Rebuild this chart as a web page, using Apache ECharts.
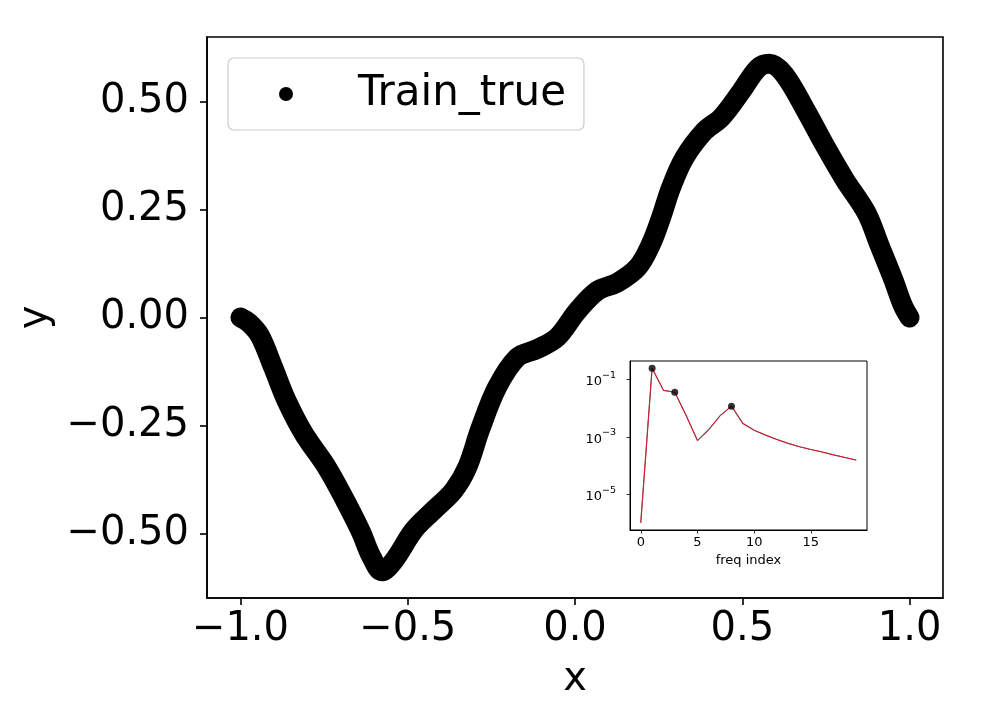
<!DOCTYPE html>
<html>
<head>
<meta charset="utf-8">
<script src="https://cdn.jsdelivr.net/npm/echarts@6/dist/echarts.min.js"></script>
<style>
html,body{margin:0;padding:0;background:#fff;}
#chart{width:998px;height:713px;}
</style>
</head>
<body>
<div id="chart"></div>
<script>
// Main curve
const xVals = [-1.000,-0.975,-0.942,-0.902,-0.862,-0.810,-0.742,-0.687,-0.639,-0.610,-0.577,-0.540,-0.482,-0.423,-0.363,-0.322,-0.283,-0.233,-0.173,-0.113,-0.053,0.007,0.067,0.127,0.187,0.227,0.257,0.287,0.327,0.387,0.437,0.497,0.547,0.581,0.626,0.694,0.748,0.806,0.871,0.911,0.951,0.980,1.000];
const yVals = [0.000,-0.012,-0.042,-0.116,-0.193,-0.270,-0.347,-0.424,-0.498,-0.552,-0.588,-0.562,-0.493,-0.447,-0.401,-0.347,-0.258,-0.162,-0.093,-0.073,-0.046,0.015,0.062,0.081,0.116,0.170,0.231,0.301,0.370,0.432,0.463,0.524,0.578,0.588,0.563,0.474,0.397,0.320,0.243,0.166,0.089,0.028,0.000];
const xTicks = [-1.0,-0.5,0.0,0.5,1.0];
const yTicks = [-0.5,-0.25,0.0,0.25,0.5];
const seriesName = 'Train_true';

// Inset spectrum
const freqIndex = [0,1,2,3,4,5,6,7,8,9,10,11,12,13,14,15,16,17,18,19];
const spectrum = [1.0e-6,0.25,0.042,0.036,5.6e-3,7.4e-4,1.8e-3,5.5e-3,0.0118,2.95e-3,1.7e-3,1.15e-3,8.1e-4,5.9e-4,4.5e-4,3.6e-4,2.95e-4,2.35e-4,1.9e-4,1.55e-4];
const peakIdx = [1,3,8];
const insetXTicks = [0,5,10,15];
const insetYExp = [-5,-3,-1];

const FONT = 'DejaVu Sans';
const mainData = xVals.map((x,i)=>[x,yVals[i]]);
const specData = freqIndex.map((k,i)=>[k,Math.log10(spectrum[i])]);
const peakData = peakIdx.map(k=>[k,Math.log10(spectrum[k])]);
const minus = s => s.replace('-', '\u2212');

const chart = echarts.init(document.getElementById('chart'), null, {renderer:'canvas'});
chart.setOption({
  animation:false,
  backgroundColor:'#ffffff',
  legend:{
    data:[{name:seriesName, icon:'circle'}],
    left:228, top:58,
    itemWidth:14, itemHeight:14,
    padding:[14,18,14,51],
    backgroundColor:'rgba(255,255,255,0.8)',
    borderColor:'#cccccc', borderWidth:1.2, borderRadius:6,
    itemStyle:{color:'#000'},
    textStyle:{fontFamily:FONT, fontSize:42, color:'#000', lineHeight:44, padding:[0,0,0,60]}
  },
  grid:[
    {left:207, top:37, right:55, bottom:115, show:true, borderColor:'#000', borderWidth:1.6, backgroundColor:'#fff'},
    {left:630, top:361, width:237, height:169, show:true, borderColor:'#000', borderWidth:1, backgroundColor:'#fff', z:10}
  ],
  xAxis:[
    {type:'value', gridIndex:0, min:-1.1, max:1.1,
     name:'x', nameLocation:'middle', nameGap:62,
     nameTextStyle:{fontFamily:FONT, fontSize:40, color:'#000', lineHeight:40},
     axisLine:{show:true, onZero:false, lineStyle:{color:'#000', width:1.6}},
     axisTick:{show:true, length:7, lineStyle:{color:'#000', width:1.6}, customValues:xTicks},
     axisLabel:{fontFamily:FONT, fontSize:40, color:'#000', margin:12, lineHeight:40, customValues:xTicks,
       formatter:v=>minus(v.toFixed(1))},
     splitLine:{show:false}},
    {type:'value', gridIndex:1, min:-0.95, max:19.95,
     name:'freq index', nameLocation:'middle', nameGap:24,
     nameTextStyle:{fontFamily:FONT, fontSize:13, color:'#000'},
     axisLine:{show:true, onZero:false, lineStyle:{color:'#000', width:1}},
     axisTick:{show:true, length:3.5, lineStyle:{color:'#000', width:0.8}, customValues:insetXTicks},
     axisLabel:{fontFamily:FONT, fontSize:13, color:'#000', margin:6, customValues:insetXTicks,
       formatter:v=>String(Math.round(v))},
     splitLine:{show:false}, z:10}
  ],
  yAxis:[
    {type:'value', gridIndex:0, min:-0.65, max:0.65,
     name:'y', nameLocation:'middle', nameGap:150, nameRotate:90,
     nameTextStyle:{fontFamily:FONT, fontSize:40, color:'#000', lineHeight:40},
     axisLine:{show:true, onZero:false, lineStyle:{color:'#000', width:1.6}},
     axisTick:{show:true, length:7, lineStyle:{color:'#000', width:1.6}, customValues:yTicks},
     axisLabel:{fontFamily:FONT, fontSize:40, color:'#000', margin:18, customValues:yTicks,
       formatter:v=>minus(v.toFixed(2))},
     splitLine:{show:false}},
    {type:'value', gridIndex:1, min:-6.254, max:-0.352,
     axisLine:{show:true, onZero:false, lineStyle:{color:'#000', width:1}},
     axisTick:{show:true, length:3.5, lineStyle:{color:'#000', width:0.8}, customValues:insetYExp},
     axisLabel:{fontFamily:FONT, color:'#000', margin:14, customValues:insetYExp,
       formatter:v=>'{b|10}{s|' + minus(String(Math.round(v))) + '}',
       rich:{b:{fontFamily:FONT, fontSize:13, lineHeight:18, verticalAlign:'bottom'},
             s:{fontFamily:FONT, fontSize:9.5, lineHeight:18, verticalAlign:'top'}}},
     splitLine:{show:false}, z:10}
  ],
  series:[
    {name:seriesName, type:'line', xAxisIndex:0, yAxisIndex:0, data:mainData,
     smooth:0.35, showSymbol:false, symbol:'circle',
     lineStyle:{color:'#000', width:20, cap:'round', join:'round'},
     itemStyle:{color:'#000'}},
    {name:'spec_true', type:'line', xAxisIndex:1, yAxisIndex:1, data:specData,
     showSymbol:false, lineStyle:{color:'#666666', width:1.2}, z:11},
    {name:'spec_pred', type:'line', xAxisIndex:1, yAxisIndex:1, data:specData,
     showSymbol:false, lineStyle:{color:'#e8102a', width:1, opacity:0.9}, z:12},
    {name:'peaks', type:'scatter', xAxisIndex:1, yAxisIndex:1, data:peakData,
     symbol:'circle', symbolSize:7, itemStyle:{color:'#000'}, z:13}
  ]
});
</script>
</body>
</html>
